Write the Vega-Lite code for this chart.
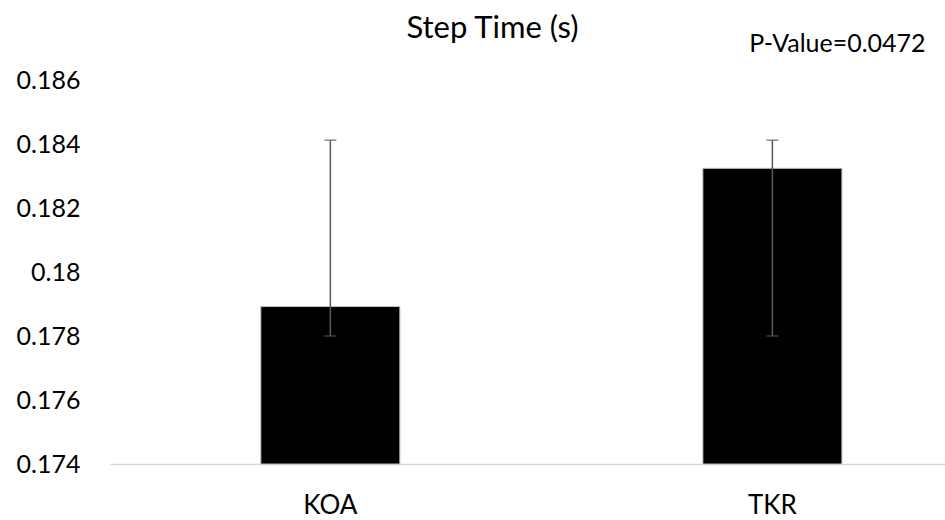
{
  "$schema": "https://vega.github.io/schema/vega-lite/v6.json",
  "width": 835,
  "height": 384,
  "autosize": {"type": "none"},
  "padding": {"left": 110, "top": 80, "right": 0, "bottom": 56},
  "background": "white",
  "config": {
    "view": {"stroke": null},
    "font": "Lato",
    "axis": {"labelFont": "Lato", "labelColor": "#000000", "grid": false, "ticks": false, "title": null}
  },
  "title": {
    "text": "Step Time (s)",
    "fontSize": 31,
    "fontWeight": "normal",
    "font": "Lato",
    "color": "#000000",
    "anchor": "middle",
    "baseline": "alphabetic",
    "dx": -35,
    "dy": 37,
    "offset": 0
  },
  "datasets": {
    "groups": [
      {"group": "KOA", "mean": 0.17892, "lo": 0.17800, "hi": 0.18412},
      {"group": "TKR", "mean": 0.18324, "lo": 0.17800, "hi": 0.18412}
    ],
    "notes": [
      {"group": "TKR", "pos": 0.18712, "label": "P-Value=0.0472"}
    ]
  },
  "data": {"name": "groups"},
  "encoding": {
    "x": {
      "field": "group",
      "type": "nominal",
      "sort": ["KOA", "TKR"],
      "scale": {"paddingInner": 0.6855, "paddingOuter": 0.2872, "align": 0.594},
      "axis": {"labelAngle": 0, "labelFontSize": 26, "labelPadding": 28, "domainColor": "#d9d9d9", "domainWidth": 1.5}
    }
  },
  "layer": [
    {
      "mark": {"type": "bar", "color": "#000000", "stroke": "#bfbfbf", "strokeWidth": 1},
      "encoding": {
        "y": {
          "field": "mean",
          "type": "quantitative",
          "scale": {"domain": [0.174, 0.186], "zero": false, "nice": false},
          "axis": {"values": [0.174, 0.176, 0.178, 0.18, 0.182, 0.184, 0.186], "labelFontSize": 25, "labelPadding": 30, "domain": false, "format": "~g"}
        },
        "y2": {"datum": 0.174}
      }
    },
    {
      "mark": {"type": "rule", "color": "#595959", "strokeWidth": 1.5},
      "encoding": {
        "y": {"field": "lo", "type": "quantitative"},
        "y2": {"field": "hi"}
      }
    },
    {
      "mark": {"type": "tick", "color": "#595959", "thickness": 1.5, "size": 12},
      "encoding": {"y": {"field": "lo", "type": "quantitative"}}
    },
    {
      "mark": {"type": "tick", "color": "#595959", "thickness": 1.5, "size": 12},
      "encoding": {"y": {"field": "hi", "type": "quantitative"}}
    },
    {
      "data": {"name": "notes"},
      "mark": {"type": "text", "fontSize": 25, "font": "Lato", "color": "#000000", "dx": 65, "baseline": "middle", "align": "center"},
      "encoding": {
        "y": {"field": "pos", "type": "quantitative"},
        "text": {"field": "label"}
      }
    }
  ]
}
